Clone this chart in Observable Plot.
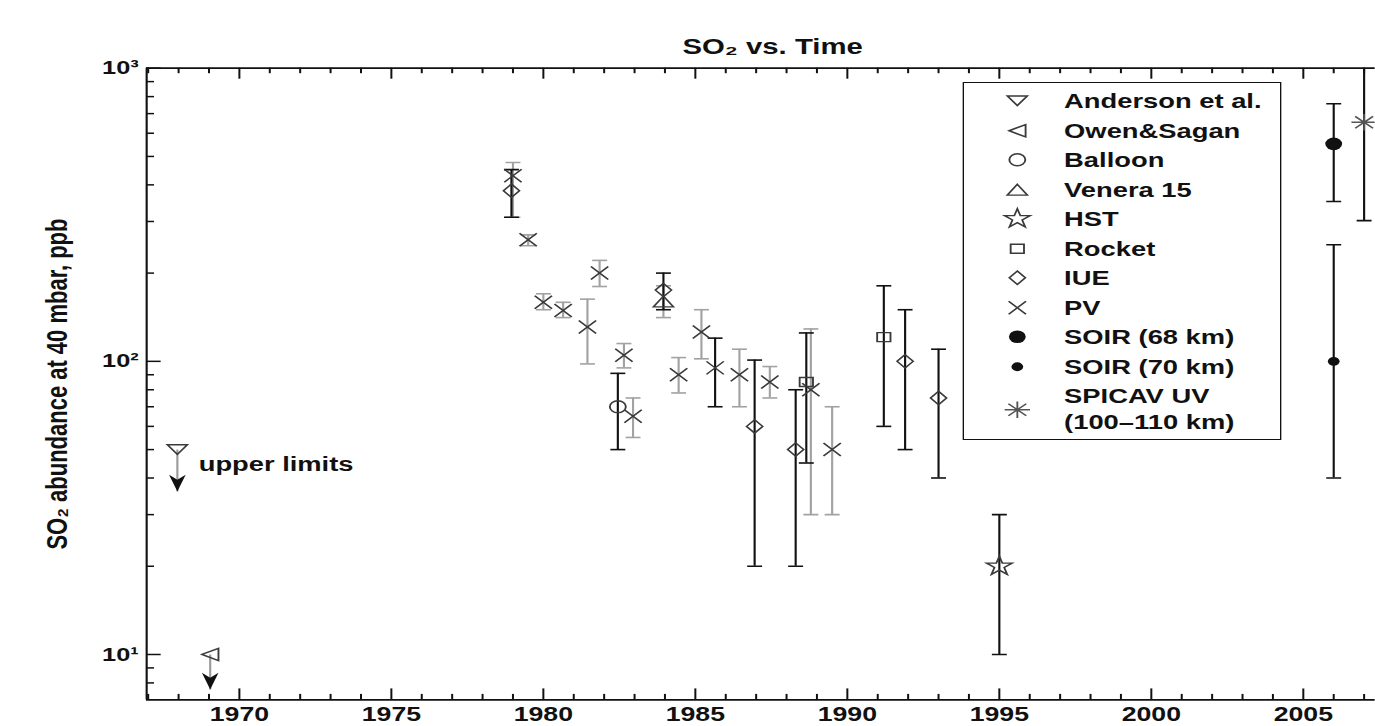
<!DOCTYPE html>
<html>
<head>
<meta charset="utf-8">
<script src="https://cdn.jsdelivr.net/npm/d3@7"></script>
<script src="https://cdn.jsdelivr.net/npm/@observablehq/plot@0.6"></script>
<style>
  html, body { margin: 0; padding: 0; background: #fff; overflow: hidden; }
  #outer { position: relative; width: 1375px; height: 726px; overflow: hidden; background: #fff; }
  #inner { position: absolute; left: 0; top: 0; width: 1031.25px; height: 726px;
           transform: scaleX(1.3333333); transform-origin: 0 0; }
  #legend { position: absolute; box-sizing: border-box; border: 1.6px solid #111; background: #fff;
            font-family: 'Liberation Sans', Arial, Helvetica, sans-serif; font-weight: bold;
            font-size: 20.5px; color: #111; }
  #legend .row { display: flex; align-items: center; height: 29.5px; }
  #legend .row.two { height: 56.1px; line-height: 26.6px; }
  #legend svg { flex: none; overflow: visible; }
  #legend .lab { white-space: pre-line; }
</style>
</head>
<body>
<div id="outer"><div id="inner"><div id="legend"></div></div></div>
<script>
// ---------------- data ----------------
const sources = ["Anderson et al.", "Owen&Sagan", "Balloon", "Venera 15", "HST", "Rocket",
                 "IUE", "PV", "SOIR (68 km)", "SOIR (70 km)", "SPICAV UV\n(100–110 km)"];
const SPICAV = sources[10];

// measurements with error bars; obsSet "G" = grey error bars, "B" = black error bars
const obsYear   = [1978.95, 1979.0, 1979.5, 1980.0, 1980.65, 1981.45, 1981.85, 1982.45, 1982.65, 1982.95,
                   1983.95, 1983.95, 1984.45, 1985.2, 1985.65, 1986.45, 1986.95, 1987.45, 1988.3, 1988.65,
                   1988.8, 1989.5, 1991.2, 1991.9, 1993.0, 1995.0, 2006.0, 2006.0, 2007.0];
const obsSource = ["IUE", "PV", "PV", "PV", "PV", "PV", "PV", "Balloon", "PV", "PV",
                   "IUE", "Venera 15", "PV", "PV", "PV", "PV", "IUE", "PV", "IUE", "Rocket",
                   "PV", "PV", "Rocket", "IUE", "IUE", "HST", "SOIR (68 km)", "SOIR (70 km)", SPICAV];
const obsValue  = [382, 430, 260, 159, 149, 131, 200, 70, 105, 65,
                   175, 160, 90, 126, 95, 90, 60, 85, 50, 85,
                   80, 50, 121, 100, 75, 20, 552, 100, 654];
const obsLow    = [310, 310, 248, 150, 141, 98, 180, 50, 95, 55,
                   150, 141, 78, 102, 70, 70, 20, 75, 20, 45,
                   30, 30, 60, 50, 40, 10, 351, 40, 302];
const obsHigh   = [451, 477, 270, 170, 159, 163, 221, 91, 115, 75,
                   200, 181, 103, 150, 120, 110, 101, 96, 80, 125,
                   129, 70, 181, 150, 110, 30, 756, 250, 1100];
const obsSet    = ["B", "G", "G", "G", "G", "G", "G", "B", "G", "G",
                   "B", "G", "G", "G", "B", "G", "B", "G", "B", "B",
                   "G", "G", "B", "B", "B", "B", "B", "B", "B"];

// upper limits
const limSource = ["Anderson et al.", "Owen&Sagan"];
const limYear   = [1967.96, 1969.04];
const limValue  = [50, 10];
const limTip    = [36, 7.6];
const limNote   = "upper limits";

// axes
const xMajor = [1970, 1975, 1980, 1985, 1990, 1995, 2000, 2005];
const xMinor = [1967, 1968, 1969, 1971, 1972, 1973, 1974, 1976, 1977, 1978, 1979, 1981, 1982, 1983, 1984,
                1986, 1987, 1988, 1989, 1991, 1992, 1993, 1994, 1996, 1997, 1998, 1999, 2001, 2002, 2003,
                2004, 2006, 2007];
const yMajor = [10, 100, 1000];
const yTickLabels = ["10¹", "10²", "10³"];
const yMinor = [8, 9, 20, 30, 40, 50, 60, 70, 80, 90, 200, 300, 400, 500, 600, 700, 800, 900];
const titleText = "SO₂ vs. Time";
const yLabelText = "SO₂ abundance at 40 mbar, ppb";

// ---------------- tables ----------------
const obs = obsYear.map((year, i) => ({year, source: obsSource[i], value: obsValue[i],
                                        low: obsLow[i], high: obsHigh[i], set: obsSet[i]}));
const limits = limYear.map((year, i) => ({year, source: limSource[i], value: limValue[i], tip: limTip[i]}));

// ---------------- symbols ----------------
const rad = size => Math.sqrt(size / Math.PI);
const triDown = {draw(c, s) { const r = rad(s); c.moveTo(-1.25 * r, -0.8 * r); c.lineTo(1.25 * r, -0.8 * r); c.lineTo(0, 0.8 * r); c.closePath(); }};
const triLeft = {draw(c, s) { const r = rad(s); c.moveTo(-r, 0); c.lineTo(r, -r); c.lineTo(r, r); c.closePath(); }};
const triUp   = {draw(c, s) { const r = rad(s); c.moveTo(0, -0.9 * r); c.lineTo(1.25 * r, 0.9 * r); c.lineTo(-1.25 * r, 0.9 * r); c.closePath(); }};
const circ    = {draw(c, s) { const r = rad(s); c.moveTo(r, 0); c.arc(0, 0, r, 0, 2 * Math.PI); c.closePath(); }};
const square  = {draw(c, s) { const r = rad(s); c.moveTo(-r, -r * 0.9); c.lineTo(r, -r * 0.9); c.lineTo(r, r * 0.9); c.lineTo(-r, r * 0.9); c.closePath(); }};
const diamond = {draw(c, s) { const r = rad(s); c.moveTo(0, -r); c.lineTo(0.9 * r, 0); c.lineTo(0, r); c.lineTo(-0.9 * r, 0); c.closePath(); }};
const cross   = {draw(c, s) { const r = rad(s); c.moveTo(-r, -r); c.lineTo(r, r); c.moveTo(-r, r); c.lineTo(r, -r); }};
const star    = {draw(c, s) { d3.symbolStar.draw(c, s); }};
const aster   = {draw(c, s) { const r = rad(s); for (let k = 0; k < 4; k++) { const a = k * Math.PI / 4, dx = r * Math.cos(a), dy = r * Math.sin(a) * 0.88; c.moveTo(-dx, -dy); c.lineTo(dx, dy); } }};
const hcap    = {draw(c, s) { const r = rad(s); c.moveTo(-r, 0); c.lineTo(r, 0); }};
const arrowHead = {draw(c, s) { const r = rad(s); c.moveTo(0, 0); c.lineTo(-0.75 * r, -2 * r); c.lineTo(0, -1.4 * r); c.lineTo(0.75 * r, -2 * r); c.closePath(); }};

const INK = "#111", MARK = "#3a3a3a", GREY = "#a2a2a2";
const style = {
  "Anderson et al.": {symbol: triDown, r: 6},
  "Owen&Sagan":      {symbol: triLeft, r: 6.2},
  "Balloon":         {symbol: circ, r: 6},
  "Venera 15":       {symbol: triUp, r: 6},
  "HST":             {symbol: star, r: 6},
  "Rocket":          {symbol: square, r: 5},
  "IUE":             {symbol: diamond, r: 6.7},
  "PV":              {symbol: cross, r: 6.5},
  "SOIR (68 km)":    {symbol: circ, r: 6.3, fill: INK},
  "SOIR (70 km)":    {symbol: circ, r: 4.4, fill: INK},
  [SPICAV]:          {symbol: aster, r: 9.5, stroke: "#555"}
};

// ---------------- layout ----------------
const W = 1031.25, H = 726;
const mL = 109.5, mR = 0, mT = 67.7, mB = 26.6;
const fh = H - mT - mB, fw = W - mL - mR;
const xDomain = [1966.95, 2007.38];
const yDomain = [7, 1000];
const tk = {stroke: INK, strokeWidth: 1.5};

function errorMarks(set, color) {
  const d = obs.filter(o => o.set === set);
  return [
    Plot.ruleX(d, {x: "year", y1: "low", y2: "high", stroke: color, strokeWidth: 1.6, clip: true}),
    Plot.dot(d, {x: "year", y: "low", symbol: hcap, r: 5.6, fill: "none", stroke: color, strokeWidth: 1.6, clip: true}),
    Plot.dot(d, {x: "year", y: "high", symbol: hcap, r: 5.6, fill: "none", stroke: color, strokeWidth: 1.6, clip: true})
  ];
}

const markerMarks = sources.map(src => {
  const st = style[src];
  const d = obs.filter(o => o.source === src).concat(limits.filter(l => l.source === src));
  return Plot.dot(d, {x: "year", y: "value", symbol: st.symbol, r: st.r,
                      fill: st.fill || "none", stroke: st.fill ? "none" : (st.stroke || MARK), strokeWidth: 1.4});
});

const chart = Plot.plot({
  width: W, height: H,
  marginLeft: mL, marginRight: mR, marginTop: mT, marginBottom: mB,
  x: {domain: xDomain},
  y: {type: "log", domain: yDomain},
  style: {fontFamily: "'Liberation Sans', Arial, Helvetica, sans-serif", fontWeight: "bold",
          background: "white", color: INK},
  marks: [
    // ticks (inward)
    Plot.tickX(xMajor, {x: d => d, insetTop: fh - 11, ...tk}),
    Plot.tickX(xMajor, {x: d => d, insetBottom: fh - 11, ...tk}),
    Plot.tickX(xMinor, {x: d => d, insetTop: fh - 5.5, ...tk}),
    Plot.tickX(xMinor, {x: d => d, insetBottom: fh - 5.5, ...tk}),
    Plot.tickY(yMajor, {y: d => d, insetRight: fw - 11, ...tk}),
    Plot.tickY(yMinor, {y: d => d, insetRight: fw - 6, ...tk}),
    // frame (right side lies beyond the picture)
    Plot.ruleY([yDomain[1]], {stroke: INK, strokeWidth: 1.8}),
    Plot.ruleY([yDomain[0]], {stroke: INK, strokeWidth: 1.8}),
    Plot.ruleX([xDomain[0]], {stroke: INK, strokeWidth: 1.6}),
    // tick labels
    Plot.axisX({anchor: "bottom", ticks: xMajor, tickSize: 0, tickPadding: 7,
                tickFormat: d => String(d), fontSize: 20, label: null}),
    Plot.axisY({anchor: "left", ticks: yMajor, tickSize: 0, tickPadding: 6,
                tickFormat: d => yTickLabels[yMajor.indexOf(d)], fontSize: 19, label: null}),
    // error bars
    ...errorMarks("G", GREY),
    ...errorMarks("B", INK),
    // upper-limit arrows
    Plot.link(limits, {x1: "year", x2: "year", y1: "value", y2: "tip", stroke: "#9a9a9a", strokeWidth: 1.6}),
    Plot.dot(limits, {x: "year", y: "tip", symbol: arrowHead, r: 8.3, fill: INK, stroke: "none"}),
    // markers
    ...markerMarks,
    // annotations
    Plot.text(limits.filter(l => l.source === "Anderson et al."),
              {x: "year", y: "value", text: () => limNote, dx: 16, dy: 15, textAnchor: "start", fontSize: 20.5}),
    Plot.text([titleText], {text: d => d, frameAnchor: "top", dx: 8.6, dy: -21, lineAnchor: "middle", fontSize: 22}),
    Plot.text([yLabelText], {text: d => d, frameAnchor: "left", rotate: -90, dx: -67,
                             textAnchor: "middle", lineAnchor: "middle", fontSize: 22})
  ]
});
const inner = document.getElementById("inner");
inner.insertBefore(chart, inner.firstChild);

// ---------------- legend ----------------
const legend = document.getElementById("legend");
Object.assign(legend.style, {left: "722.3px", top: "82.3px", width: "239.2px", height: "357.7px", paddingTop: "3.05px"});
sources.forEach(src => {
  const st = style[src];
  const row = document.createElement("div");
  row.className = "row" + (src.includes("\n") ? " two" : "");
  const svg = d3.create("svg").attr("width", 30).attr("height", 29.5).style("margin-left", "24.4px");
  svg.append("path")
    .attr("transform", "translate(15,14.75)")
    .attr("d", d3.symbol(st.symbol, Math.PI * st.r * st.r)())
    .attr("fill", st.fill || "none")
    .attr("stroke", st.fill ? "none" : (st.stroke || MARK))
    .attr("stroke-width", 1.4);
  row.appendChild(svg.node());
  const lab = document.createElement("span");
  lab.className = "lab";
  lab.style.marginLeft = "20.4px";
  lab.textContent = src;
  row.appendChild(lab);
  legend.appendChild(row);
});
</script>
</body>
</html>
